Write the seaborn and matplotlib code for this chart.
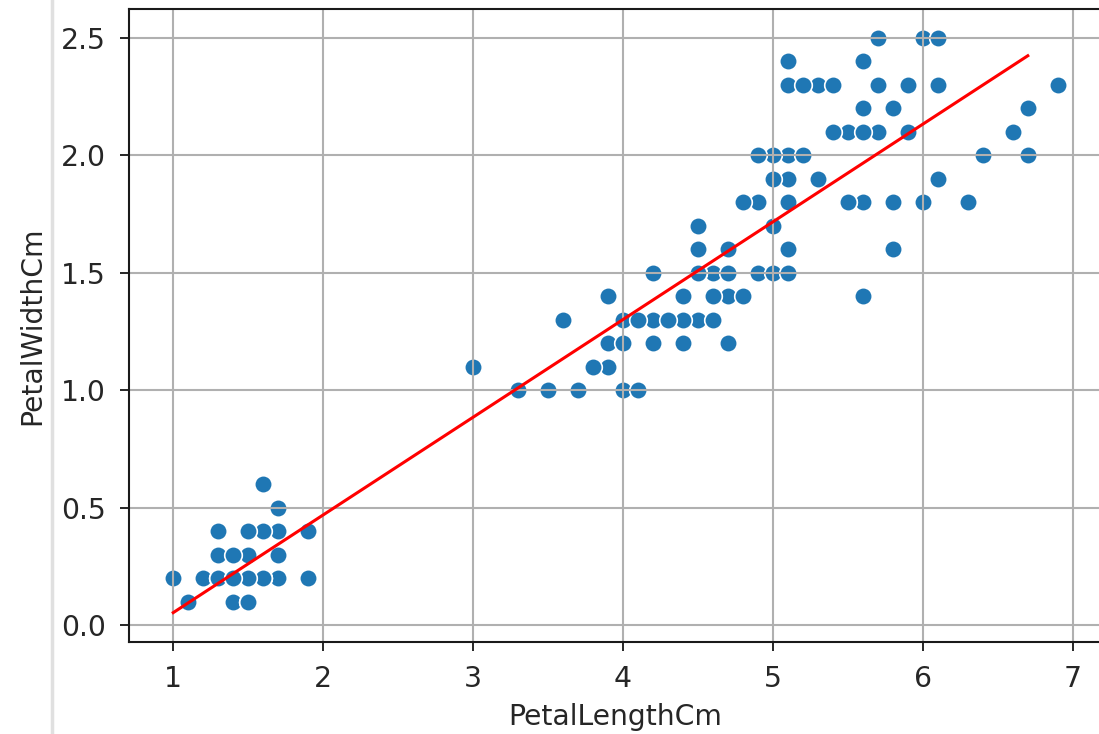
import matplotlib
matplotlib.use("Agg")
import matplotlib.pyplot as plt
from matplotlib.lines import Line2D
import seaborn as sns
import numpy as np

petal_length = [
    1.4, 1.4, 1.3, 1.5, 1.4, 1.7, 1.4, 1.5, 1.4, 1.5,
    1.5, 1.6, 1.4, 1.1, 1.2, 1.5, 1.3, 1.4, 1.7, 1.5,
    1.7, 1.5, 1.0, 1.7, 1.9, 1.6, 1.6, 1.5, 1.4, 1.6,
    1.6, 1.5, 1.5, 1.4, 1.5, 1.2, 1.3, 1.5, 1.3, 1.5,
    1.3, 1.3, 1.3, 1.6, 1.9, 1.4, 1.6, 1.4, 1.5, 1.4,
    4.7, 4.5, 4.9, 4.0, 4.6, 4.5, 4.7, 3.3, 4.6, 3.9,
    3.5, 4.2, 4.0, 4.7, 3.6, 4.4, 4.5, 4.1, 4.5, 3.9,
    4.8, 4.0, 4.9, 4.7, 4.3, 4.4, 4.8, 5.0, 4.5, 3.5,
    3.8, 3.7, 3.9, 5.1, 4.5, 4.5, 4.7, 4.4, 4.1, 4.0,
    4.4, 4.6, 4.0, 3.3, 4.2, 4.2, 4.2, 4.3, 3.0, 4.1,
    6.0, 5.1, 5.9, 5.6, 5.8, 6.6, 4.5, 6.3, 5.8, 6.1,
    5.1, 5.3, 5.5, 5.0, 5.1, 5.3, 5.5, 6.7, 6.9, 5.0,
    5.7, 4.9, 6.7, 4.9, 5.7, 6.0, 4.8, 4.9, 5.6, 5.8,
    6.1, 6.4, 5.6, 5.1, 5.6, 6.1, 5.6, 5.5, 4.8, 5.4,
    5.6, 5.1, 5.1, 5.9, 5.7, 5.2, 5.0, 5.2, 5.4, 5.1,
]
petal_width = [
    0.2, 0.2, 0.2, 0.2, 0.2, 0.4, 0.3, 0.2, 0.2, 0.1,
    0.2, 0.2, 0.1, 0.1, 0.2, 0.4, 0.4, 0.3, 0.3, 0.3,
    0.2, 0.4, 0.2, 0.5, 0.2, 0.2, 0.4, 0.2, 0.2, 0.2,
    0.2, 0.4, 0.1, 0.2, 0.1, 0.2, 0.2, 0.1, 0.2, 0.2,
    0.3, 0.3, 0.2, 0.6, 0.4, 0.3, 0.2, 0.2, 0.2, 0.2,
    1.4, 1.5, 1.5, 1.3, 1.5, 1.3, 1.6, 1.0, 1.3, 1.4,
    1.0, 1.5, 1.0, 1.4, 1.3, 1.4, 1.5, 1.0, 1.5, 1.1,
    1.8, 1.3, 1.5, 1.2, 1.3, 1.4, 1.4, 1.7, 1.5, 1.0,
    1.1, 1.0, 1.2, 1.6, 1.5, 1.6, 1.5, 1.3, 1.3, 1.3,
    1.2, 1.4, 1.2, 1.0, 1.3, 1.2, 1.3, 1.3, 1.1, 1.3,
    2.5, 1.9, 2.1, 1.8, 2.2, 2.1, 1.7, 1.8, 1.8, 2.5,
    2.0, 1.9, 2.1, 2.0, 2.4, 2.3, 1.8, 2.2, 2.3, 1.5,
    2.3, 2.0, 2.0, 1.8, 2.1, 1.8, 1.8, 1.8, 2.1, 1.6,
    1.9, 2.0, 2.2, 1.5, 1.4, 2.3, 2.4, 1.8, 1.8, 2.1,
    2.4, 2.3, 1.9, 2.3, 2.5, 2.3, 1.9, 2.0, 2.3, 1.8,
]

# Fitted regression line endpoints
line_x = [1.0, 6.7]
line_y = [0.053, 2.423]

x_label = "PetalLengthCm"
y_label = "PetalWidthCm"

FS = 20.3

W, H = 1099, 734
fig = plt.figure(figsize=(W / 100, H / 100), dpi=100)
ax = fig.add_axes([129 / W, (H - 642) / H, (1102 - 129) / W, (642 - 9) / H])

sns.scatterplot(x=petal_length, y=petal_width, ax=ax, s=160,
                color="#1f77b4", edgecolor="white", linewidth=1.2, zorder=1)
sns.lineplot(x=line_x, y=line_y, ax=ax, color="red", linewidth=2.2, zorder=2)

ax.grid(True, color="#b0b0b0", linewidth=1.5)
ax.set_axisbelow("line")

ax.set_xticks([1, 2, 3, 4, 5, 6, 7])
ax.set_yticks([0.0, 0.5, 1.0, 1.5, 2.0, 2.5])
ax.set_xlim(0.705, 7.195)
ax.set_ylim(-0.072, 2.622)
ax.tick_params(labelsize=FS, length=6.5, width=1.4, pad=10, colors="#262626")
ax.set_xlabel(x_label, fontsize=FS, color="#262626")
ax.set_ylabel(y_label, fontsize=FS, color="#262626")
ax.xaxis.set_label_coords(0.5, (642 - 703) / 633)
ax.yaxis.set_label_coords((46 - 129) / 973, 0.5)
for sp in ax.spines.values():
    sp.set_linewidth(1.5)
    sp.set_color("#1a1a1a")

# light vertical border at the left (notebook cell edge)
fig.add_artist(Line2D([52 / W, 52 / W], [0, 1], transform=fig.transFigure,
                      color="#e0e0e0", linewidth=2.5))

fig.savefig("out.png", dpi=100)
